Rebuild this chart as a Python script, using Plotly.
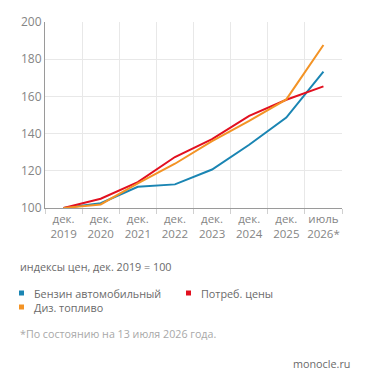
import plotly.graph_objects as go

months = ["дек.", "дек.", "дек.", "дек.", "дек.", "дек.", "дек.", "июль"]
years = ["2019", "2020", "2021", "2022", "2023", "2024", "2025", "2026*"]
categories = [m + "<br>" + y for m, y in zip(months, years)]
benzin = [100, 102.6, 111.4, 112.7, 120.7, 134.0, 148.6, 173.3]
cpi = [100, 105.0, 113.9, 127.4, 137.0, 149.5, 158.2, 165.4]
diesel = [100, 101.9, 113.3, 123.8, 136.0, 146.8, 158.4, 187.6]

names = ["Бензин автомобильный", "Потреб. цены", "Диз. топливо"]
colors = ["#1a85b3", "#e2101f", "#f39325"]
series = [benzin, cpi, diesel]

FONT = "Open Sans"
TICKC = "#858585"
fig = go.Figure()
for nm, col, vals in zip(names, colors, series):
    fig.add_trace(go.Scatter(x=categories, y=vals, mode="lines", name=nm,
                             line=dict(color=col, width=2), showlegend=False))

fig.update_layout(
    width=371, height=385,
    margin=dict(l=45, r=29, t=22, b=177),
    paper_bgcolor="white", plot_bgcolor="white",
    font=dict(family=FONT, color=TICKC, size=12),
    xaxis=dict(type="category", tickson="boundaries", showgrid=True,
               gridcolor="#e8e8e8", gridwidth=1, ticks="outside", ticklen=5,
               tickcolor="#d0d0d0", showline=True, linecolor="#9a9a9a",
               tickangle=0, tickfont=dict(size=11.5, color=TICKC),
               range=[-0.5, 7.5]),
    yaxis=dict(range=[100, 200], tickvals=[100, 120, 140, 160, 180, 200],
               showgrid=True, gridcolor="#e8e8e8", showline=True,
               linecolor="#9a9a9a", zeroline=False, ticks="",
               tickfont=dict(size=12, color=TICKC)),
)

pw, ph = 371 - 45 - 29, 385 - 22 - 177
def px(x):
    return (x - 45) / pw
def py(y):
    return (385 - 177 - y) / ph

annotations = []
ann = []
ann.append(dict(text="индексы цен, дек. 2019 = 100", x=18, y=266, font=dict(size=10.8, color="#6a6a6a")))
leg_pos = [(19, 293), (186, 293), (19, 307)]
shapes = []
for (lx, ly), nm, col in zip(leg_pos, names, colors):
    shapes.append(dict(type="rect", xref="paper", yref="paper",
                       x0=px(lx), x1=px(lx + 5), y0=py(ly - 2.5), y1=py(ly + 2.5),
                       fillcolor=col, line=dict(width=0)))
    ann.append(dict(text=nm, x=lx + 13, y=ly, font=dict(size=10.8, color="#6a6a6a")))
ann.append(dict(text="*По состоянию на 13 июля 2026 года.", x=18, y=334,
                font=dict(size=10.7, color="#a8a8a8")))

for a in ann:
    annotations.append(dict(text=a["text"], xref="paper", yref="paper",
                            x=px(a["x"]), y=py(a["y"]), xanchor="left", yanchor="middle",
                            showarrow=False, font=dict(family=FONT, **a["font"])))
annotations.append(dict(text="monocle.ru", xref="paper", yref="paper",
                        x=px(352), y=py(363), xanchor="right", yanchor="middle",
                        showarrow=False, font=dict(family=FONT, size=10.8, color="#6a6a6a")))
fig.update_layout(annotations=annotations, shapes=shapes)
fig.write_html("out.html")
